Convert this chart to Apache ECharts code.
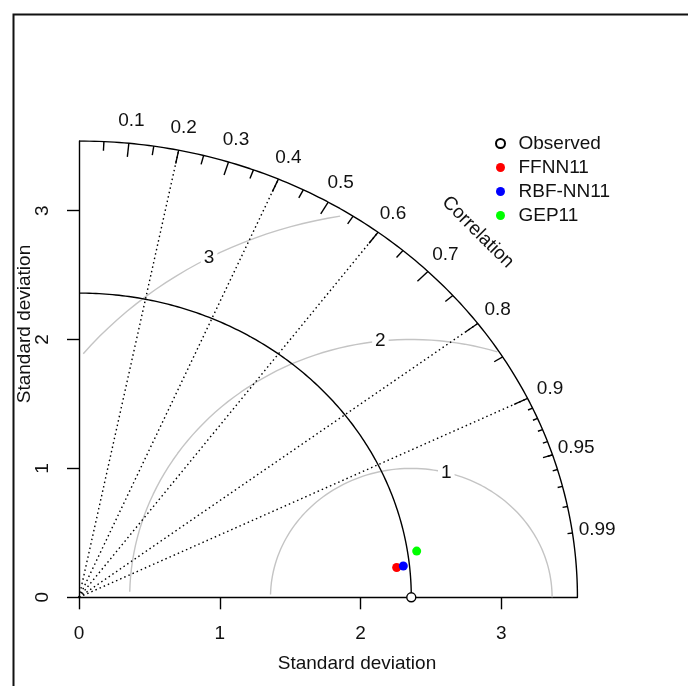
<!DOCTYPE html>
<html><head><meta charset="utf-8">
<script src="https://cdn.jsdelivr.net/npm/echarts@6/dist/echarts.min.js"></script>
<style>html,body{margin:0;padding:0;background:#fff}#c{width:688px;height:686px}</style>
</head><body><div id="c"></div>
<script>
// ---------- data ----------
const seriesNames = ['Observed', 'FFNN11', 'RBF-NN11', 'GEP11'];
const seriesColors = ['#000000', '#ff0000', '#0000ff', '#00ff00'];
const sdValues = [2.36, 2.268, 2.316, 2.425];
const corValues = [1.0, 0.9948, 0.9945, 0.9890];
const axisTickValues = [0, 1, 2, 3];
const corLabelValues = [0.1, 0.2, 0.3, 0.4, 0.5, 0.6, 0.7, 0.8, 0.9, 0.95, 0.99];
const bigTickCors = [0.1, 0.2, 0.3, 0.4, 0.5, 0.6, 0.7, 0.8, 0.9];
const medTickCors = [0.05, 0.15, 0.25, 0.35, 0.45, 0.55, 0.65, 0.75, 0.85, 0.95];
const smlTickCors = [0.91, 0.92, 0.93, 0.94, 0.95, 0.96, 0.97, 0.98, 0.99];
const gradCorrLines = [0.2, 0.4, 0.6, 0.8, 0.9];
const rmsLevels = [1, 2, 3];
const axisTitle = 'Standard deviation';
const corrTitle = 'Correlation';

// ---------- layout / style ----------
const FONT = '"Liberation Sans", Arial, sans-serif';
const TXT = '#111';
const FS = 19;
const sdRef = sdValues[0];
const maxsd = 1.5 * sdRef;
const rmsLabelAngles = [75.6, 96.3, 118.6]; // degrees around reference point
const gridLeft = 79, gridTop = 141, pxX = 140.8, pxY = 128.9;

function arcPoints(r, step) {
  const pts = [];
  for (let t = 0; t <= Math.PI / 2 + 1e-9; t += step) pts.push([r * Math.cos(t), r * Math.sin(t)]);
  pts.push([0, r]);
  return pts;
}
function rmsPoints(g) {
  const pts = [];
  for (let t = 0; t <= Math.PI + 1e-9; t += 0.03) {
    const x = sdRef + g * Math.cos(t), y = g * Math.sin(t);
    if (x < 0) break;
    if (x * x + y * y > maxsd * maxsd) continue;
    pts.push([x, y]);
  }
  return pts;
}

const tickData = []
  .concat(bigTickCors.map(c => [c, 0.97]))
  .concat(medTickCors.map(c => [c, 0.98]))
  .concat(smlTickCors.map(c => [c, 0.99]));

const series = [];
// outer arc
series.push({type: 'line', data: arcPoints(maxsd, 0.01), showSymbol: false, silent: true,
  lineStyle: {color: '#000', width: 1.4}, z: 3});
// reference sd arc
series.push({type: 'line', data: arcPoints(sdRef, 0.01), showSymbol: false, silent: true,
  lineStyle: {color: '#000', width: 1.4}, z: 3});
// gradient correlation lines
gradCorrLines.forEach(c => {
  series.push({type: 'line', data: [[0, 0], [maxsd * c, maxsd * Math.sqrt(1 - c * c)]], showSymbol: false, silent: true,
    lineStyle: {color: '#000', width: 1.4, type: [1.5, 3]}, z: 2});
});
// RMS contours
rmsLevels.forEach(g => {
  series.push({type: 'line', data: rmsPoints(g), showSymbol: false, silent: true,
    lineStyle: {color: '#c4c4c4', width: 1.4}, z: 1});
});
// RMS labels
series.push({type: 'custom', silent: true, clip: false, z: 4,
  data: rmsLevels.map((g, i) => [g, rmsLabelAngles[i]]),
  renderItem: (p, api) => {
    const g = api.value(0), a = api.value(1) * Math.PI / 180;
    const pt = api.coord([sdRef + g * Math.cos(a), g * Math.sin(a)]);
    return {type: 'text', x: pt[0], y: pt[1], style: {text: String(g), fill: TXT, font: FS + 'px ' + FONT,
      align: 'center', verticalAlign: 'middle', backgroundColor: '#fff', padding: [1, 3]}};
  }});
// correlation ticks
series.push({type: 'custom', silent: true, clip: false, z: 3, data: tickData,
  renderItem: (p, api) => {
    const c = api.value(0), f = api.value(1), s = Math.sqrt(1 - c * c);
    const p1 = api.coord([maxsd * c, maxsd * s]);
    const p2 = api.coord([maxsd * f * c, maxsd * f * s]);
    return {type: 'line', shape: {x1: p1[0], y1: p1[1], x2: p2[0], y2: p2[1]}, style: {stroke: '#000', lineWidth: 1.4}};
  }});
// correlation labels
series.push({type: 'custom', silent: true, clip: false, z: 3, data: corLabelValues.map(c => [c]),
  renderItem: (p, api) => {
    const c = api.value(0), s = Math.sqrt(1 - c * c);
    const pt = api.coord([1.05 * maxsd * c, 1.05 * maxsd * s]);
    return {type: 'text', x: pt[0], y: pt[1], style: {text: String(c), fill: TXT, font: FS + 'px ' + FONT,
      align: 'center', verticalAlign: 'middle'}};
  }});
// Correlation title
series.push({type: 'custom', silent: true, clip: false, z: 3, data: [[0.8, 0.8]],
  renderItem: (p, api) => {
    const pt = api.coord([api.value(0) * maxsd, api.value(1) * maxsd]);
    return {type: 'text', x: pt[0], y: pt[1], rotation: -Math.PI / 4, style: {text: corrTitle, fill: TXT,
      font: FS + 'px ' + FONT, align: 'center', verticalAlign: 'middle'}};
  }});
// points
seriesNames.forEach((n, i) => {
  const sd = sdValues[i], c = corValues[i];
  const open = i === 0;
  series.push({type: 'scatter', name: n, data: [[sd * c, sd * Math.sqrt(1 - c * c)]], symbol: 'circle',
    symbolSize: 9, z: 10, silent: true,
    itemStyle: open ? {color: '#fff', borderColor: '#000', borderWidth: 1.4, opacity: 1}
                    : {color: seriesColors[i], opacity: 1}});
});

const chart = echarts.init(document.getElementById('c'), null, {renderer: 'canvas'});
chart.setOption({
  animation: false,
  backgroundColor: '#fff',
  grid: {left: gridLeft, top: gridTop, width: maxsd * pxX, height: maxsd * pxY, containLabel: false},
  xAxis: {type: 'value', min: 0, max: maxsd, splitLine: {show: false},
    axisLine: {show: true, onZero: false, lineStyle: {color: '#000', width: 1.4}},
    axisTick: {show: true, length: 12, customValues: axisTickValues, lineStyle: {color: '#000', width: 1.4}},
    axisLabel: {customValues: axisTickValues, margin: 27, color: TXT, fontSize: FS, fontFamily: FONT}},
  yAxis: {type: 'value', min: 0, max: maxsd, splitLine: {show: false},
    axisLine: {show: true, onZero: false, lineStyle: {color: '#000', width: 1.4}},
    axisTick: {show: true, length: 12, customValues: axisTickValues, lineStyle: {color: '#000', width: 1.4}},
    axisLabel: {customValues: axisTickValues, margin: 27, rotate: 90, color: TXT, fontSize: FS, fontFamily: FONT}},
  legend: {show: true, orient: 'vertical', left: 490, top: 129, itemWidth: 26, itemHeight: 9, itemGap: 5,
    data: seriesNames, textStyle: {color: TXT, fontSize: FS, fontFamily: FONT, lineHeight: 19},
    selectedMode: false},
  graphic: [
    {type: 'rect', left: 11, top: 12, shape: {x: 0, y: 0, width: 720, height: 720},
      style: {fill: 'none', stroke: '#111', lineWidth: 2}, silent: true},
    {type: 'text', x: 357, y: 664, style: {text: axisTitle, fill: TXT, font: FS + 'px ' + FONT,
      align: 'center', verticalAlign: 'middle'}},
    {type: 'text', x: 25, y: 324, rotation: Math.PI / 2, style: {text: axisTitle, fill: TXT,
      font: FS + 'px ' + FONT, align: 'center', verticalAlign: 'middle'}}
  ],
  series: series
});
</script></body></html>
